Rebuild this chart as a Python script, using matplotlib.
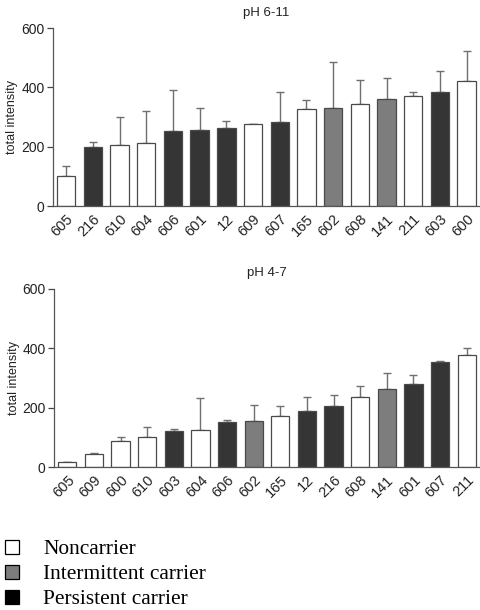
import matplotlib

matplotlib.use("Agg")
import matplotlib.pyplot as plt
import numpy as np
from matplotlib.lines import Line2D

plt.rcParams["font.family"] = ["Liberation Sans", "DejaVu Sans"]

# carrier group per strain: N = noncarrier, I = intermittent, P = persistent
COLORS = {"N": "#ffffff", "I": "#7d7d7d", "P": "#353535"}

top_labels = ["605", "216", "610", "604", "606", "601", "12", "609",
              "607", "165", "602", "608", "141", "211", "603", "600"]
top_groups = ["N", "P", "N", "N", "P", "P", "P", "N",
              "P", "N", "I", "N", "I", "N", "P", "N"]
top_values = [103, 201, 207, 212, 253, 256, 263, 276,
              284, 326, 331, 344, 362, 370, 385, 420]
top_err_top = [135, 215, 302, 319, 390, 330, 288, 276,
               383, 356, 485, 424, 431, 385, 455, 524]

bot_labels = ["605", "609", "600", "610", "603", "604", "606", "602",
              "165", "12", "216", "608", "141", "601", "607", "211"]
bot_groups = ["N", "N", "N", "N", "P", "N", "P", "I",
              "N", "P", "P", "N", "I", "P", "P", "N"]
bot_values = [16, 45, 89, 100, 122, 126, 152, 156,
              171, 190, 205, 237, 263, 281, 354, 377]
bot_err_top = [18, 47, 100, 134, 129, 234, 157, 208,
               206, 237, 242, 273, 318, 310, 357, 401]

legend_labels = ["Noncarrier", "Intermittent carrier", "Persistent carrier"]
legend_colors = ["#ffffff", "#7d7d7d", "#000000"]


def panel(ax, title, labels, groups, values, err_top):
    x = np.arange(len(labels))
    vals = np.array(values, float)
    up = np.array(err_top, float) - vals
    ax.bar(x, vals, width=0.69, color=[COLORS[g] for g in groups],
           edgecolor="#4a4a4a", linewidth=0.9, zorder=2)
    ax.errorbar(x, vals, yerr=[np.zeros_like(up), up], fmt="none",
                ecolor="#707070", elinewidth=1.0, capsize=3.2, capthick=1.0, zorder=1)
    ax.set_xlim(-0.5, len(labels) - 0.5)
    ax.set_ylim(0, 600)
    ax.set_yticks([0, 200, 400, 600])
    ax.set_xticks(x)
    ax.set_xticklabels(labels, rotation=45, ha="right", rotation_mode="anchor",
                       fontsize=10.5, color="#222222")
    ax.tick_params(axis="x", length=0, pad=4)
    ax.tick_params(axis="y", length=4, width=0.9, labelsize=10, colors="#444444",
                   labelcolor="#222222", pad=2)
    for s in ("top", "right"):
        ax.spines[s].set_visible(False)
    for s in ("left", "bottom"):
        ax.spines[s].set_color("#555555")
        ax.spines[s].set_linewidth(0.9)
    ax.set_ylabel("total intensity", fontsize=9, color="#222222", labelpad=2)
    ax.set_title(title, fontsize=9.5, color="#222222", pad=9)


fig = plt.figure(figsize=(4.8, 6.1), dpi=100)
ax1 = fig.add_axes([0.110, 0.662, 0.890, 0.292])
ax2 = fig.add_axes([0.1125, 0.2344, 0.8875, 0.292])
panel(ax1, "pH 6-11", top_labels, top_groups, top_values, top_err_top)
panel(ax2, "pH 4-7", bot_labels, bot_groups, bot_values, bot_err_top)

handles = [Line2D([], [], marker="s", ls="", ms=9.5, mfc=c, mec="black", mew=0.9)
           for c in legend_colors]
fig.legend(handles, legend_labels, loc="upper left", bbox_to_anchor=(0.002, 0.116),
           frameon=False, handlelength=1.0, handletextpad=0.97, labelspacing=0.24,
           borderpad=0.0, borderaxespad=0.0,
           prop={"family": ["Liberation Serif", "DejaVu Serif"], "size": 15.4})

fig.savefig("out.png", dpi=100)
